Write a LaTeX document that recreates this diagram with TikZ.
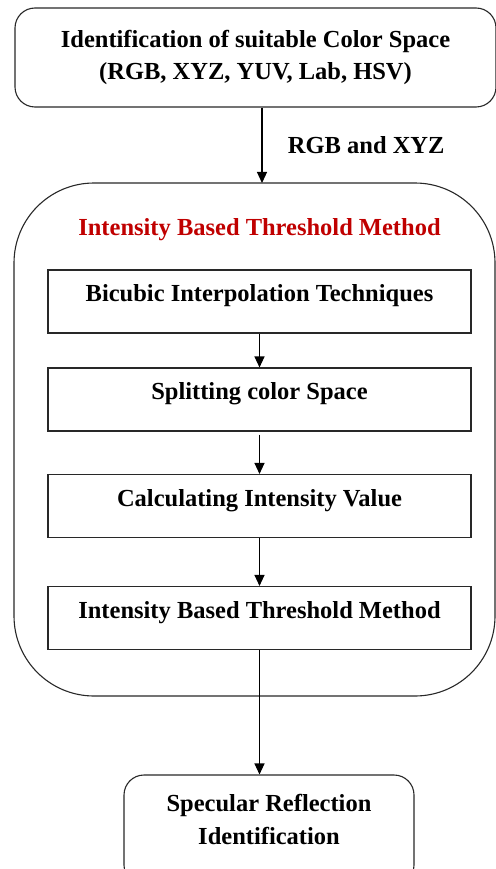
\documentclass[tikz,border=0pt]{standalone}
\usepackage{fontspec}
\setmainfont{Liberation Serif}
\usetikzlibrary{arrows.meta}
\definecolor{edge}{RGB}{40,40,40}
\definecolor{titlered}{RGB}{192,0,0}
\tikzset{
  x=1pt, y=-1pt,
  every node/.style={font=\bfseries\fontsize{24.5}{32.5}\selectfont, text=black},
  stepbox/.style={draw=edge, line width=1.1pt, minimum width=423pt, minimum height=63pt,
    inner sep=0pt, text height=10pt, text depth=10pt},
  roundbox/.style={draw=edge, line width=1.1pt, rounded corners=20pt, inner sep=0pt, align=center},
  flow/.style={draw=black, line width=1.2pt, -{Triangle[length=11pt,width=10pt]}},
}
\begin{document}
\begin{tikzpicture}
\useasboundingbox (0,0) rectangle (495,869);
% colour space selection
\node[roundbox, minimum width=481pt, minimum height=99pt] (cs) at (255.5,57.5)
  {Identification of suitable Color Space\\(RGB, XYZ, YUV, Lab, HSV)};
% enclosing threshold-method block
\draw[edge, line width=1.1pt, rounded corners=80pt] (14,183) rectangle (495,696);
\coordinate (blocktop) at (262,183);
\node[text=titlered] (title) at (259.5,229.5) {Intensity Based Threshold Method};
\node[stepbox] (s1) at (259.5,301.5) {Bicubic Interpolation Techniques};
\node[stepbox] (s2) at (259.5,399.5) {Splitting color Space};
\node[stepbox] (s3) at (259.5,506) {Calculating Intensity Value};
\node[stepbox] (s4) at (259.5,618) {Intensity Based Threshold Method};
% result
\node[roundbox, minimum width=290pt, minimum height=110pt, text height=29pt] (res) at (269,830)
  {Specular Reflection\\Identification};
% connectors
\draw[flow] (cs.south -| blocktop) -- (blocktop) node[pos=0.5, right=22pt, anchor=west] (lbl) {RGB and XYZ};
\draw[flow] (s1.south) -- (s2.north);
\draw[flow] ([yshift=-3pt]s2.south) -- (s3.north);
\draw[flow] (s3.south) -- (s4.north);
\draw[flow] (s4.south) -- (s4.south |- res.north);
\end{tikzpicture}
\end{document}
